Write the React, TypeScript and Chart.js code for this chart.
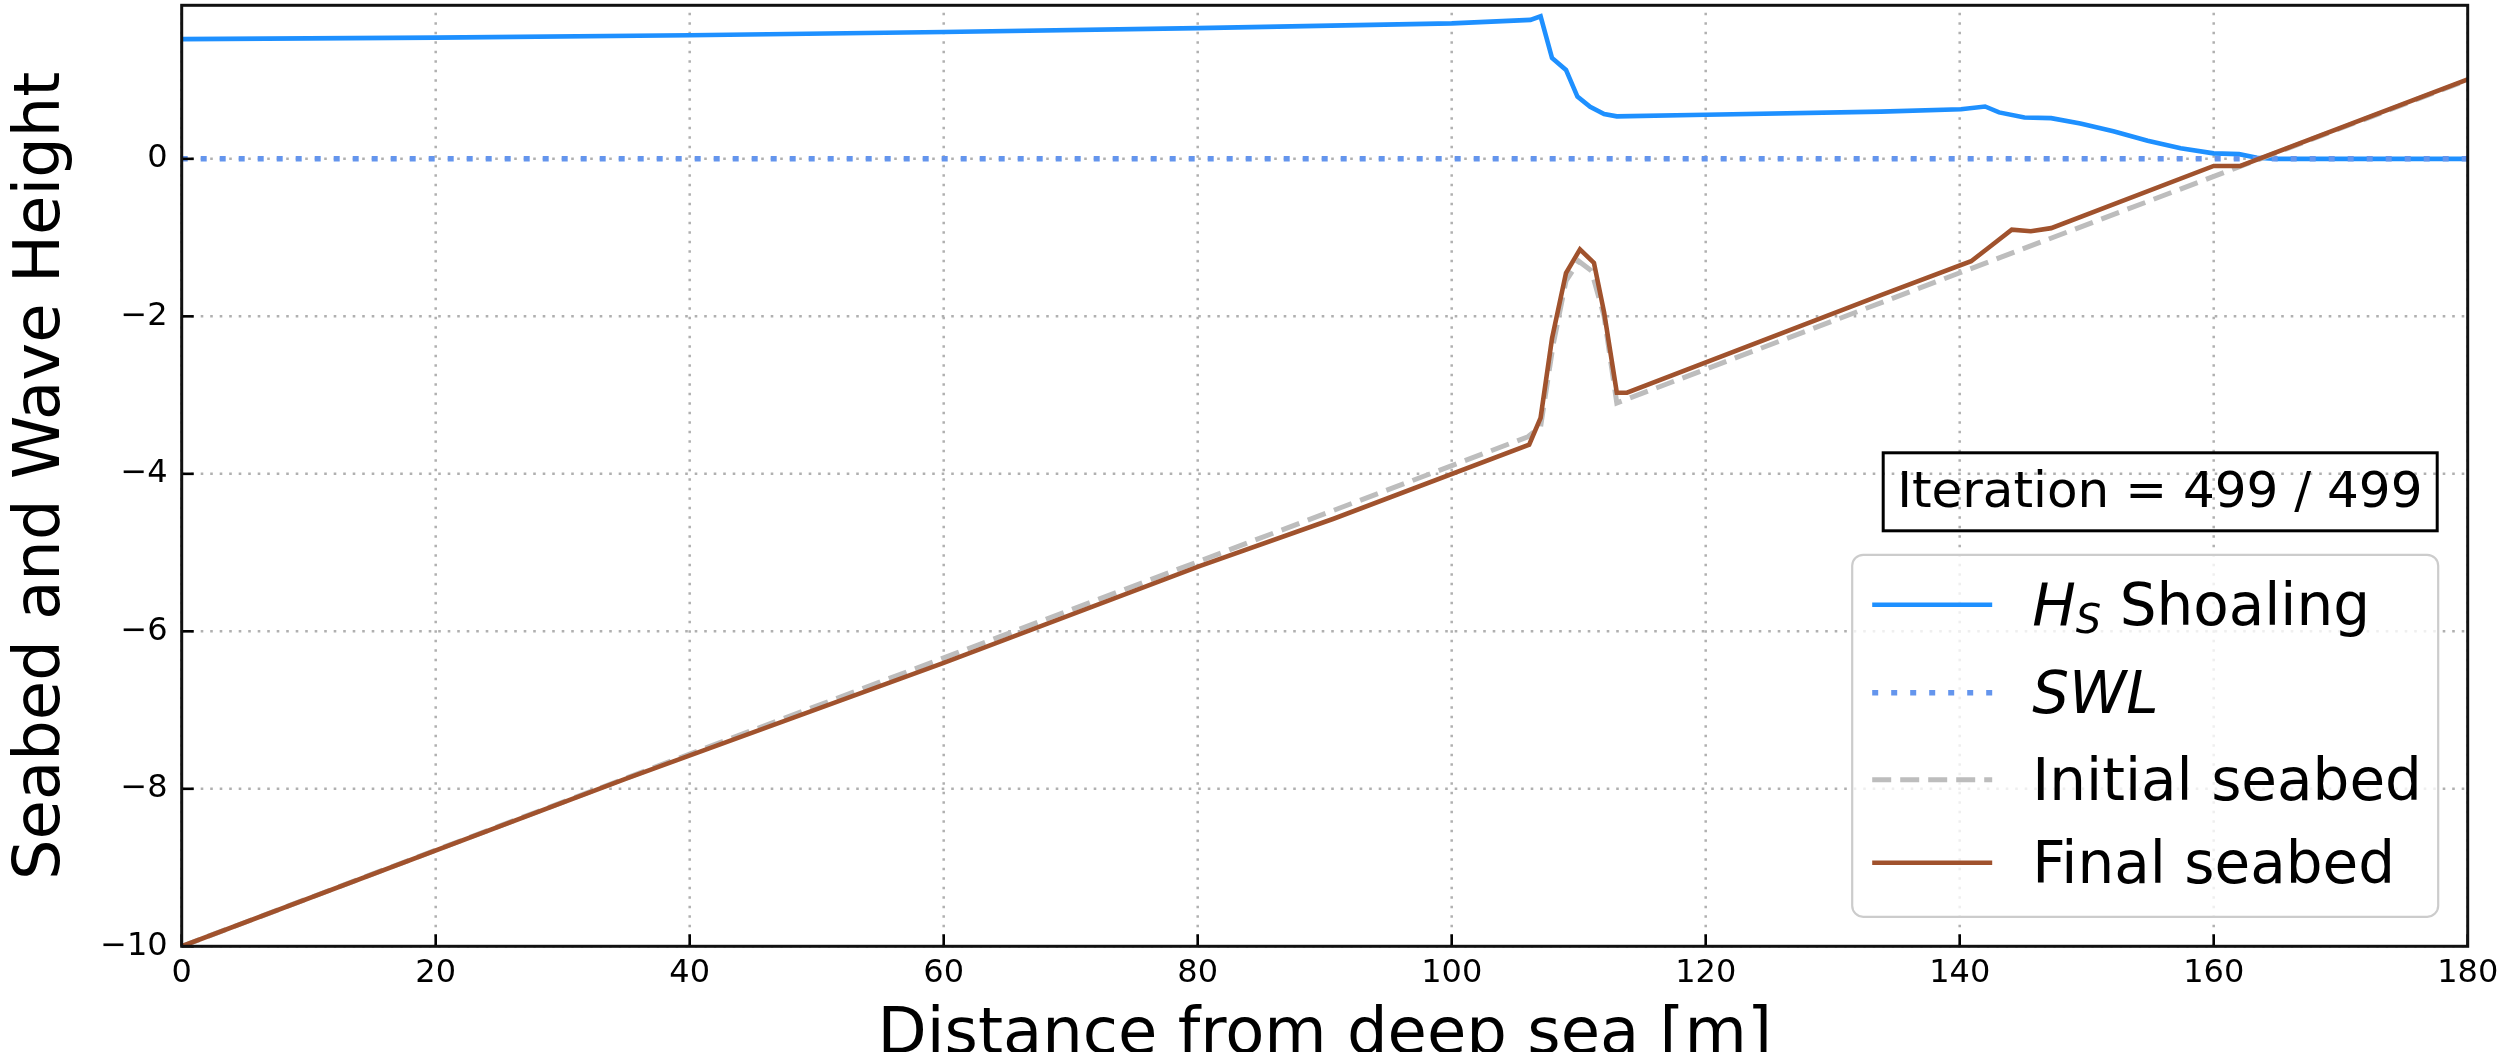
import React, { useEffect, useRef } from 'react';
import { Chart, registerables } from 'chart.js';

Chart.register(...registerables);

const FONT = "'DejaVu Sans', 'Noto Sans', sans-serif";

// ---- data ----
const hsX = [0, 20, 40, 60, 80, 100, 106.2, 107, 107.9, 109, 109.9, 110.9, 112, 113, 120, 133.8, 140.1, 142, 143.1, 145.1, 147.2, 149.5, 152.1, 154.8, 157.4, 160, 162, 163.4, 165, 180];
const hsY = [1.52, 1.54, 1.57, 1.61, 1.66, 1.72, 1.765, 1.81, 1.28, 1.13, 0.79, 0.66, 0.57, 0.54, 0.56, 0.6, 0.63, 0.665, 0.59, 0.525, 0.517, 0.45, 0.35, 0.23, 0.135, 0.07, 0.06, 0.015, 0, 0];

const swlX = [0, 180];
const swlY = [0, 0];

const initX = [0, 106, 107, 108, 109, 110, 111, 112, 113, 180];
const initY = [-10, -3.53, -3.4, -2.35, -1.55, -1.3, -1.42, -2.0, -3.1, 1.0];

const finalX = [0, 35, 60, 80.2, 90.7, 106.1, 107, 107.9, 109, 110.1, 111.2, 112, 113, 113.8, 133.8, 140.9, 142.5, 144.1, 145.6, 147.2, 160, 162.1, 180];
const finalY = [-10, -7.87, -6.4, -5.17, -4.57, -3.63, -3.29, -2.28, -1.45, -1.15, -1.32, -1.95, -2.97, -2.97, -1.73, -1.3, -1.1, -0.9, -0.92, -0.88, -0.09, -0.09, 1.01];

const xTickValues = [0, 20, 40, 60, 80, 100, 120, 140, 160, 180];
const yTickValues = [-10, -8, -6, -4, -2, 0];

const xTitle = 'Distance from deep sea [m]';
const yTitle = 'Seabed and Wave Height';
const iterationText = 'Iteration = 499 / 499';

const toPts = (xs: number[], ys: number[]) => xs.map((x, i) => ({ x, y: ys[i] }));
const fmt = (v: number) => (v < 0 ? '\u2212' + Math.abs(v) : String(v));

const W = 2511;
const H = 1052;

const gridPlugin = {
  id: 'mplGrid',
  beforeDatasetsDraw(chart: any) {
    const { ctx, chartArea, scales } = chart;
    const { left, right, top, bottom } = chartArea;
    ctx.save();
    ctx.strokeStyle = '#b0b0b0';
    ctx.lineWidth = 2.5;
    ctx.setLineDash([2.6, 6.9]);
    scales.x.ticks.forEach((t: any) => {
      const px = scales.x.getPixelForValue(t.value);
      ctx.beginPath();
      ctx.moveTo(px, bottom);
      ctx.lineTo(px, top);
      ctx.stroke();
    });
    scales.y.ticks.forEach((t: any) => {
      const py = scales.y.getPixelForValue(t.value);
      ctx.beginPath();
      ctx.moveTo(left, py);
      ctx.lineTo(right, py);
      ctx.stroke();
    });
    ctx.restore();
  },
};

const framePlugin = {
  id: 'mplFrame',
  afterDatasetsDraw(chart: any) {
    const { ctx, chartArea, scales } = chart;
    const { left, right, top, bottom } = chartArea;
    ctx.save();
    ctx.strokeStyle = '#000';
    ctx.lineWidth = 2.6;
    ctx.setLineDash([]);
    scales.x.ticks.forEach((t: any) => {
      const px = scales.x.getPixelForValue(t.value);
      ctx.beginPath();
      ctx.moveTo(px, bottom);
      ctx.lineTo(px, bottom - 12);
      ctx.stroke();
    });
    scales.y.ticks.forEach((t: any) => {
      const py = scales.y.getPixelForValue(t.value);
      ctx.beginPath();
      ctx.moveTo(left, py);
      ctx.lineTo(left + 12, py);
      ctx.stroke();
    });
    ctx.lineWidth = 3;
    ctx.strokeStyle = '#111';
    ctx.strokeRect(left, top, right - left, bottom - top);
    ctx.restore();
  },
};

const legendPlugin = {
  id: 'mplLegend',
  afterDraw(chart: any) {
    const { ctx, chartArea } = chart;
    const { right, bottom } = chartArea;
    ctx.save();

    // iteration annotation box
    const bx1 = right - 584.5;
    const bx2 = right - 30.5;
    const by1 = bottom - 493.5;
    const by2 = bottom - 415.5;
    ctx.strokeStyle = '#000';
    ctx.lineWidth = 3;
    ctx.setLineDash([]);
    ctx.strokeRect(bx1, by1, bx2 - bx1, by2 - by1);
    ctx.fillStyle = '#000';
    ctx.font = `50px ${FONT}`;
    ctx.textBaseline = 'alphabetic';
    ctx.textAlign = 'left';
    ctx.fillText(iterationText, bx1 + 14, by1 + 54);

    // legend
    const lx1 = right - 615.5;
    const lx2 = right - 29.5;
    const ly1 = bottom - 391.5;
    const ly2 = bottom - 29.5;
    ctx.beginPath();
    ctx.roundRect(lx1, ly1, lx2 - lx1, ly2 - ly1, 11);
    ctx.fillStyle = 'rgba(255,255,255,0.8)';
    ctx.fill();
    ctx.strokeStyle = '#cccccc';
    ctx.lineWidth = 2.2;
    ctx.stroke();

    const datasets = chart.data.datasets;
    const rowY = [ly1 + 50, ly1 + 138, ly1 + 225, ly1 + 308];
    const sx1 = lx1 + 20;
    const sx2 = lx1 + 140;
    const tx = lx1 + 180;
    datasets.forEach((ds: any, i: number) => {
      const y = rowY[i];
      ctx.beginPath();
      ctx.strokeStyle = ds.borderColor;
      ctx.lineWidth = ds.borderWidth;
      ctx.lineCap = 'butt';
      ctx.setLineDash(ds.borderDash || []);
      ctx.moveTo(sx1, y);
      ctx.lineTo(sx2, y);
      ctx.stroke();
      ctx.setLineDash([]);
      ctx.fillStyle = '#000';
      const base = y + 20;
      if (i === 0) {
        ctx.font = `italic 58px ${FONT}`;
        ctx.fillText('H', tx, base);
        let x = tx + ctx.measureText('H').width;
        ctx.font = `italic 40px ${FONT}`;
        ctx.fillText('S', x, base + 8);
        x += ctx.measureText('S').width;
        ctx.font = `58px ${FONT}`;
        ctx.fillText(' Shoaling', x, base);
      } else if (i === 1) {
        ctx.font = `italic 58px ${FONT}`;
        ctx.fillText('SWL', tx, base);
      } else {
        ctx.font = `58px ${FONT}`;
        ctx.fillText(ds.label, tx, base);
      }
    });
    ctx.restore();
  },
};

export default function App() {
  const canvasRef = useRef<HTMLCanvasElement | null>(null);

  useEffect(() => {
    document.body.style.margin = '0';
    document.body.style.overflow = 'hidden';
    const canvas = canvasRef.current;
    if (!canvas) return;
    const chart = new Chart(canvas, {
      type: 'line',
      data: {
        datasets: [
          {
            label: 'H_S Shoaling',
            data: toPts(hsX, hsY),
            borderColor: '#1E90FF',
            borderWidth: 4.6,
            pointRadius: 0,
            tension: 0,
            order: 4,
          },
          {
            label: 'SWL',
            data: toPts(swlX, swlY),
            borderColor: '#6495ED',
            borderWidth: 5.5,
            borderDash: [6, 13],
            borderCapStyle: 'butt',
            pointRadius: 0,
            tension: 0,
            order: 3,
          },
          {
            label: 'Initial seabed',
            data: toPts(initX, initY),
            borderColor: '#BDBDBD',
            borderWidth: 5,
            borderDash: [19, 9],
            borderCapStyle: 'butt',
            pointRadius: 0,
            tension: 0,
            order: 2,
          },
          {
            label: 'Final seabed',
            data: toPts(finalX, finalY),
            borderColor: '#A0522D',
            borderWidth: 4.6,
            pointRadius: 0,
            tension: 0,
            order: 1,
          },
        ] as any,
      },
      options: {
        animation: false,
        responsive: false,
        maintainAspectRatio: false,
        devicePixelRatio: 1,
        events: [],
        layout: { padding: { top: 5.3, right: W - 2467.7, bottom: 0, left: 0 } },
        plugins: {
          legend: { display: false },
          tooltip: { enabled: false },
          title: { display: false },
        },
        scales: {
          x: {
            type: 'linear',
            position: 'bottom',
            min: 0,
            max: 180,
            afterBuildTicks: (s: any) => {
              s.ticks = xTickValues.map((v) => ({ value: v }));
            },
            ticks: {
              color: '#000',
              font: { family: FONT, size: 32 },
              padding: 8,
              maxRotation: 0,
              autoSkip: false,
              callback: (v: any) => fmt(Number(v)),
            },
            grid: { display: false, drawTicks: false },
            border: { display: false },
            title: {
              display: true,
              text: xTitle,
              color: '#000',
              font: { family: FONT, size: 64, lineHeight: 0.5 },
              padding: 0,
            },
            afterFit: (s: any) => {
              s.height = H - 946.3;
              s.paddingLeft = 0;
              s.paddingRight = 0;
            },
          },
          y: {
            type: 'linear',
            position: 'left',
            min: -10,
            max: 1.95,
            afterBuildTicks: (s: any) => {
              s.ticks = yTickValues.map((v) => ({ value: v }));
            },
            ticks: {
              color: '#000',
              font: { family: FONT, size: 32 },
              padding: 14,
              autoSkip: false,
              callback: (v: any) => fmt(Number(v)),
            },
            grid: { display: false, drawTicks: false },
            border: { display: false },
            title: {
              display: true,
              text: yTitle,
              color: '#000',
              font: { family: FONT, size: 64 },
              padding: { top: 4, bottom: 0 },
            },
            afterFit: (s: any) => {
              s.width = 181.7;
              s.paddingTop = 0;
              s.paddingBottom = 0;
            },
          },
        },
      } as any,
      plugins: [gridPlugin, framePlugin, legendPlugin],
    });
    return () => {
      chart.destroy();
    };
  }, []);

  return (
    <div style={{ width: W, height: H, overflow: 'hidden', background: '#fff' }}>
      <canvas ref={canvasRef} width={W} height={H} style={{ display: 'block', width: W, height: H }} />
    </div>
  );
}
